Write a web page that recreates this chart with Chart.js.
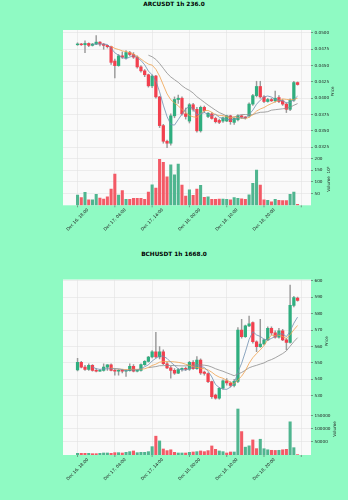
<!DOCTYPE html>
<html>
<head>
<meta charset="utf-8">
<script src="https://cdn.jsdelivr.net/npm/chart.js@4.4.1/dist/chart.umd.min.js"></script>
<style>
  html, body { margin: 0; padding: 0; background: #8ffac3; }
  #wrap { position: relative; width: 348px; height: 500px; overflow: hidden; }
  #wrap canvas { position: absolute; left: 0; top: 0; }
  .ttl { position: absolute; left: 0; width: 348px; text-align: center; font: bold 5.8px "DejaVu Sans"; color: #000; }
</style>
</head>
<body>
<div id="wrap">
  <div class="ttl" style="top:1px">ARCUSDT 1h 236.0</div>
  <div class="ttl" style="top:251px">BCHUSDT 1h 1668.0</div>
  <canvas id="arcPrice" width="348" height="500"></canvas>
  <canvas id="arcVol" width="348" height="500"></canvas>
  <canvas id="bchPrice" width="348" height="500"></canvas>
  <canvas id="bchVol" width="348" height="500"></canvas>
</div>
<script>
// x tick positions (candle index) and their labels
const tickIdx = [0, 10, 20, 30, 40, 50, 60];
const tickLabels = ['Dec 16, 18:00', 'Dec 17, 04:00', 'Dec 17, 14:00', 'Dec 18, 00:00', 'Dec 18, 10:00', 'Dec 18, 20:00', ''];
const maPeriods = [5, 10, 20];

// ARCUSDT 1h
const arcOpen = [0.0482,0.0483,0.0482,0.0484,0.0481,0.0483,0.0486,0.0483,0.0481,0.0479,
  0.0457,0.0450,0.0465,0.0462,0.0470,0.0467,0.0463,0.0448,0.0442,0.0436,
  0.0419,0.0434,0.0402,0.0358,0.0334,0.0331,0.0373,0.0398,0.0400,0.0376,
  0.0365,0.0390,0.0383,0.0350,0.0386,0.0372,0.0376,0.0369,0.0366,0.0365,
  0.0365,0.0373,0.0363,0.0367,0.0373,0.0371,0.0373,0.0391,0.0404,0.0418,
  0.0402,0.0395,0.0398,0.0396,0.0401,0.0396,0.0391,0.0383,0.0397,0.0424];
const arcHigh = [0.0485,0.0484,0.0488,0.0485,0.0484,0.0496,0.0487,0.0484,0.0481,0.0480,
  0.0460,0.0467,0.0471,0.0473,0.0472,0.0470,0.0465,0.0450,0.0444,0.0437,
  0.0436,0.0435,0.0403,0.0360,0.0336,0.0376,0.0402,0.0405,0.0402,0.0385,
  0.0392,0.0392,0.0386,0.0388,0.0388,0.0378,0.0378,0.0371,0.0368,0.0371,
  0.0374,0.0374,0.0370,0.0375,0.0374,0.0372,0.0393,0.0406,0.0426,0.0426,
  0.0404,0.0400,0.0400,0.0411,0.0404,0.0398,0.0393,0.0399,0.0426,0.0425];
const arcLow = [0.0481,0.0481,0.0470,0.0479,0.0480,0.0482,0.0480,0.0475,0.0477,0.0452,
  0.0431,0.0449,0.0461,0.0460,0.0465,0.0461,0.0446,0.0440,0.0433,0.0417,
  0.0416,0.0400,0.0355,0.0331,0.0324,0.0328,0.0370,0.0392,0.0374,0.0368,
  0.0362,0.0380,0.0348,0.0348,0.0378,0.0370,0.0368,0.0362,0.0361,0.0363,
  0.0364,0.0360,0.0360,0.0365,0.0369,0.0368,0.0371,0.0389,0.0402,0.0400,
  0.0393,0.0394,0.0395,0.0394,0.0393,0.0389,0.0378,0.0381,0.0395,0.0420];
const arcClose = [0.0483,0.0482,0.0484,0.0481,0.0483,0.0486,0.0483,0.0481,0.0479,0.0455,
  0.0450,0.0465,0.0463,0.0470,0.0467,0.0463,0.0448,0.0442,0.0436,0.0419,
  0.0434,0.0402,0.0358,0.0334,0.0331,0.0373,0.0398,0.0400,0.0376,0.0372,
  0.0390,0.0383,0.0350,0.0386,0.0381,0.0377,0.0369,0.0364,0.0363,0.0370,
  0.0373,0.0364,0.0369,0.0373,0.0371,0.0370,0.0391,0.0404,0.0418,0.0402,
  0.0395,0.0398,0.0396,0.0400,0.0395,0.0391,0.0383,0.0397,0.0424,0.0421];
// volume in thousands (axis shows 10^3)
const arcVolume = [44,33,56,23,23,47,31,27,36,70, 134,44,63,26,26,30,30,30,26,57,
  88,74,197,184,122,173,131,177,87,40, 66,43,69,86,34,36,26,26,27,27,
  26,23,33,30,28,26,45,94,151,87, 23,21,15,26,21,20,20,47,57,4];
const arcPriceTicks = [0.0325, 0.035, 0.0375, 0.04, 0.0425, 0.045, 0.0475, 0.05];
const arcVolTicks = [50, 100, 150, 200];

// BCHUSDT 1h
const bchOpen = [545.7,550.4,547.5,546.0,548.5,545.5,545.0,545.5,547.5,548.8,
  545.5,545.0,545.4,545.0,545.3,548.0,545.0,545.5,549.0,551.0,
  553.6,556.8,553.6,556.8,549.5,547.0,545.5,543.8,546.0,546.8,
  546.2,550.4,546.5,551.8,544.5,543.5,538.6,530.5,528.6,534.6,
  539.2,537.8,536.3,538.8,570.0,566.0,572.5,574.5,562.9,559.9,
  561.5,564.0,571.0,568.3,565.6,569.5,564.0,562.5,585.0,589.5];
const bchHigh = [552.8,551.0,548.5,549.5,549.0,546.5,546.0,549.5,549.0,549.5,
  546.5,546.0,546.0,546.0,549.5,549.0,546.0,549.5,551.5,554.0,
  557.5,568.6,560.0,558.0,550.5,548.0,546.5,546.5,547.0,547.5,
  551.0,551.5,553.8,552.5,545.0,544.0,539.0,531.0,535.0,539.8,
  540.5,538.5,540.0,571.5,576.5,573.0,578.5,575.0,563.5,576.5,
  564.5,572.0,572.0,569.5,571.0,570.5,565.0,597.4,590.5,590.0];
const bchLow = [545.2,547.0,545.5,545.5,545.0,544.5,544.8,545.0,545.5,545.2,
  542.5,542.5,544.0,541.8,545.0,544.5,544.5,545.0,548.5,550.5,
  553.0,553.0,552.5,549.0,546.5,540.7,543.0,543.5,545.0,545.5,
  545.5,546.0,546.0,543.0,542.5,538.0,528.5,528.0,528.0,534.0,
  536.5,535.5,535.5,538.0,565.0,565.5,572.0,562.0,556.8,559.5,
  561.0,563.5,567.0,565.0,565.0,563.5,558.0,562.0,584.0,587.5];
const bchClose = [550.4,547.5,546.0,548.5,545.5,545.0,545.5,547.5,548.8,545.5,
  545.0,545.4,545.0,545.3,548.0,545.0,545.5,549.0,551.0,553.6,
  556.8,553.6,556.8,549.5,547.0,545.5,543.8,546.0,546.8,546.2,
  550.4,546.5,551.8,544.0,543.7,538.6,529.5,528.6,534.6,539.2,
  537.8,536.3,538.8,570.0,566.0,572.5,573.8,562.9,559.9,561.5,
  564.0,571.0,568.3,565.6,569.5,564.0,562.5,585.0,589.8,588.0];
const bchVolume = [6400,6400,6400,6400,5100,5100,6400,7700,7700,6400,
  9000,9000,7700,10300,12800,15400,9000,10300,10300,12800,
  32000,72000,53800,23000,16700,20000,10300,7700,7700,7700,
  10300,11500,12800,15400,12800,16700,34600,21800,15400,12800,
  7700,11500,11500,176000,89600,30000,35000,57700,24400,60300,
  24000,20000,18000,17500,18000,20000,21800,127000,28000,1500];
const bchPriceTicks = [530, 540, 550, 560, 570, 580, 590, 600];
const bchVolTicks = [50000, 100000, 150000];

const FONT = 'DejaVu Sans';
const GRID = '#e2e2e2';
const UP = '#2fae7f', DOWN = '#f2404e';
const VOL_UP = '#4fb58f', VOL_DOWN = '#f35a66';
const WICK = '#9a9a9a';
const MA_COLORS = ['#6f8fb0', '#f0a24e', '#8d8d8d'];
const X_MIN = -3.9, X_MAX = 62.6;

function sma(values, n) {
  return values.map((v, i) => i < n - 1 ? null :
    values.slice(i - n + 1, i + 1).reduce((a, b) => a + b, 0) / n);
}

const panelBg = {
  id: 'panelBg',
  beforeDraw(chart) {
    const { ctx, chartArea: a } = chart;
    ctx.save();
    ctx.fillStyle = '#fafafa';
    ctx.fillRect(a.left, a.top, a.right - a.left, a.bottom - a.top);
    ctx.restore();
  }
};

// rotated y title (reads bottom to top) and the 45deg date labels
const extras = {
  id: 'extras',
  afterDraw(chart, args, opts) {
    const { ctx, chartArea: a } = chart;
    ctx.save();
    ctx.fillStyle = '#222';
    ctx.font = '4.2px "' + FONT + '"';
    if (opts.yTitle) {
      ctx.save();
      ctx.translate(opts.yTitle.x, (a.top + a.bottom) / 2);
      ctx.rotate(-Math.PI / 2);
      ctx.textAlign = 'center';
      ctx.textBaseline = 'middle';
      ctx.fillText(opts.yTitle.text, 0, 0);
      ctx.restore();
    }
    if (opts.xLabels) {
      const xs = chart.scales.x;
      tickIdx.forEach((v, k) => {
        const px = xs.getPixelForValue(v);
        ctx.strokeStyle = '#555';
        ctx.lineWidth = 0.6;
        ctx.beginPath();
        ctx.moveTo(px, a.bottom);
        ctx.lineTo(px, a.bottom + 2);
        ctx.stroke();
        const t = tickLabels[k];
        if (!t) return;
        const w = ctx.measureText(t).width;
        const half = (w + 4.2) * Math.SQRT1_2 / 2;
        ctx.save();
        ctx.translate(px, a.bottom + 2.5 + half);
        ctx.rotate(-Math.PI / 4);
        ctx.textAlign = 'center';
        ctx.textBaseline = 'middle';
        ctx.fillText(t, 0, 0);
        ctx.restore();
      });
    }
    ctx.restore();
  }
};

function xScale() {
  return {
    type: 'linear', min: X_MIN, max: X_MAX, offset: false,
    afterBuildTicks: s => { s.ticks = tickIdx.map(v => ({ value: v })); },
    ticks: { display: false },
    grid: { color: GRID, lineWidth: 0.6, drawTicks: false, offset: false },
    border: { display: false },
    afterFit: s => { s.height = 0; }
  };
}

function yScale(min, max, ticks, fmt) {
  return {
    position: 'right', min: min, max: max,
    afterBuildTicks: s => { s.ticks = ticks.map(v => ({ value: v })); },
    ticks: {
      padding: 1.5, color: '#222',
      font: { family: FONT, size: 4.2 },
      callback: v => fmt(v)
    },
    grid: { color: GRID, lineWidth: 0.6, tickColor: '#555', tickLength: 2 },
    border: { display: false },
    afterFit: s => { s.width = 37; }
  };
}

function priceChart(id, o, h, l, c, area, y, title) {
  const idx = c.map((v, i) => i);
  const datasets = [
    {
      type: 'bar', order: 3, grouped: false, barThickness: 0.8,
      data: idx.map(i => ({ x: i, y: [l[i], h[i]] })),
      backgroundColor: WICK
    },
    {
      type: 'bar', order: 2, grouped: false, barThickness: 2.6, minBarLength: 0.8,
      data: idx.map(i => ({ x: i, y: [o[i], c[i]] })),
      backgroundColor: idx.map(i => c[i] >= o[i] ? UP : DOWN)
    }
  ];
  maPeriods.forEach((n, k) => {
    const ma = sma(c, n);
    datasets.push({
      type: 'line', order: 1,
      data: idx.map(i => ({ x: i, y: ma[i] })),
      borderColor: MA_COLORS[k], borderWidth: 0.8, pointRadius: 0, tension: 0
    });
  });
  return new Chart(document.getElementById(id), {
    type: 'bar',
    data: { datasets },
    options: {
      responsive: false, animation: false, events: [],
      layout: { padding: { left: 63, right: 0, top: area[0], bottom: 500 - area[1] } },
      plugins: { legend: { display: false }, tooltip: { enabled: false }, extras: { yTitle: title } },
      scales: { x: xScale(), y: y }
    },
    plugins: [panelBg, extras]
  });
}

function volumeChart(id, o, c, vol, area, y, title) {
  const idx = vol.map((v, i) => i);
  return new Chart(document.getElementById(id), {
    type: 'bar',
    data: {
      datasets: [{
        grouped: false, barThickness: 2.4,
        data: idx.map(i => ({ x: i, y: vol[i] })),
        backgroundColor: idx.map(i => c[i] >= o[i] ? VOL_UP : VOL_DOWN)
      }]
    },
    options: {
      responsive: false, animation: false, events: [],
      layout: { padding: { left: 63, right: 0, top: area[0], bottom: 500 - area[1] } },
      plugins: { legend: { display: false }, tooltip: { enabled: false }, extras: { yTitle: title, xLabels: true } },
      scales: { x: xScale(), y: y }
    },
    plugins: [panelBg, extras]
  });
}

priceChart('arcPrice', arcOpen, arcHigh, arcLow, arcClose, [30, 153],
  yScale(0.0316, 0.05046, arcPriceTicks, v => v.toFixed(4)), { x: 333, text: 'Price' });
volumeChart('arcVol', arcOpen, arcClose, arcVolume, [153, 205.3],
  yScale(0, 224, arcVolTicks, v => String(Math.round(v))), { x: 329, text: 'Volume  10\u00b3' });

priceChart('bchPrice', bchOpen, bchHigh, bchLow, bchClose, [279.5, 403],
  yScale(525.65, 600.73, bchPriceTicks, v => String(Math.round(v))), { x: 327, text: 'Price' });
volumeChart('bchVol', bchOpen, bchClose, bchVolume, [403, 455],
  yScale(0, 199000, bchVolTicks, v => String(Math.round(v))), { x: 335, text: 'Volume' });
</script>
</body>
</html>
